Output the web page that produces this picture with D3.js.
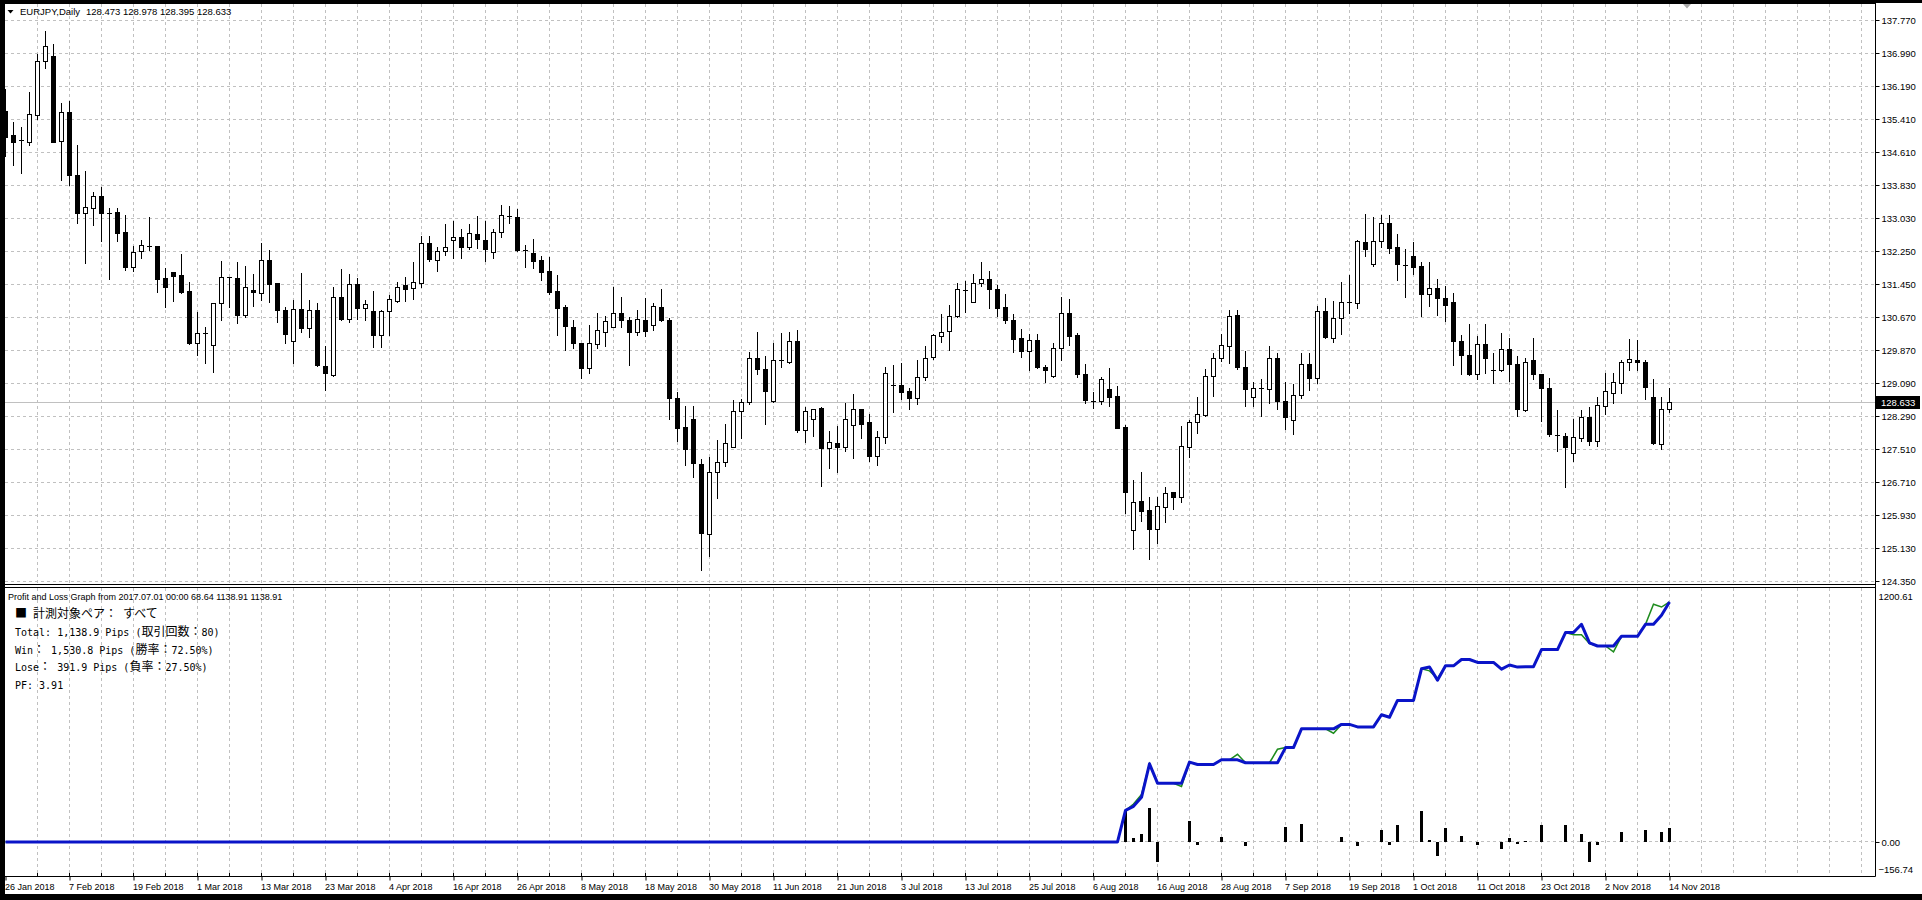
<!DOCTYPE html>
<html><head><meta charset="utf-8">
<script src="https://cdn.jsdelivr.net/npm/d3@7"></script>
<style>
body{margin:0;background:#fff;overflow:hidden}
text{font-family:"Liberation Sans",Arial,sans-serif}
</style>
</head><body><svg id="c" width="1922" height="900"></svg>
<script>
// ---------------- DATA ----------------
const symbolTitle = "EURJPY,Daily";
const headerOHLC = "128.473 128.978 128.395 128.633";
const timeLabels = ["26 Jan 2018","7 Feb 2018","19 Feb 2018","1 Mar 2018","13 Mar 2018","23 Mar 2018","4 Apr 2018","16 Apr 2018","26 Apr 2018","8 May 2018","18 May 2018","30 May 2018","11 Jun 2018","21 Jun 2018","3 Jul 2018","13 Jul 2018","25 Jul 2018","6 Aug 2018","16 Aug 2018","28 Aug 2018","7 Sep 2018","19 Sep 2018","1 Oct 2018","11 Oct 2018","23 Oct 2018","2 Nov 2018","14 Nov 2018"];
const barsPerLabel = 8;
const priceTicks = [137.770,136.990,136.190,135.410,134.610,133.830,133.030,132.250,131.450,130.670,129.870,129.090,128.290,127.510,126.710,125.930,125.130,124.350];
const priceMin = 124.350, priceMax = 137.770;
const bidPrice = 128.633;

const opens = [135.61,135.04,134.90,134.87,135.51,136.81,136.92,134.89,135.57,134.06,133.15,133.27,133.56,133.17,133.18,132.71,131.86,132.24,132.38,132.36,
131.60,131.74,131.67,131.29,130.05,130.28,130.00,131.00,131.62,131.60,130.71,131.32,131.24,132.04,131.48,130.83,130.09,130.86,130.40,130.83,
129.49,129.28,131.14,130.62,131.46,130.88,130.82,130.24,130.81,131.06,131.43,131.36,131.49,132.44,132.03,132.24,132.51,132.58,132.34,132.65,
132.51,132.22,132.70,133.06,133.07,132.27,132.21,132.04,131.77,131.29,130.92,130.44,130.06,129.44,130.02,130.32,130.42,130.76,130.60,130.32,
130.60,130.48,130.91,130.60,128.72,128.03,128.24,127.14,125.47,126.95,127.21,127.57,128.43,128.64,129.70,129.42,128.65,129.63,129.60,130.09,
127.97,128.24,128.49,127.53,127.65,127.57,128.08,128.46,128.15,127.35,127.79,129.04,129.04,128.90,128.74,129.24,129.72,130.22,130.34,130.69,
131.31,131.04,131.48,131.57,131.33,130.90,130.60,130.16,129.86,130.11,129.47,129.27,129.92,130.76,130.24,129.31,128.67,128.67,128.95,128.78,
128.03,125.56,126.27,126.05,125.60,126.11,126.47,126.35,127.57,128.16,128.32,129.27,129.68,129.98,130.71,129.48,128.75,128.97,128.95,129.70,
128.67,128.20,128.80,129.54,129.22,130.82,130.18,130.64,131.02,131.01,132.46,131.93,132.50,132.91,132.34,131.92,132.12,131.89,131.21,131.36,
131.12,131.04,130.10,129.76,129.30,130.02,129.39,129.39,129.90,129.54,128.44,129.63,129.30,128.96,127.85,127.83,127.41,127.77,128.28,127.71,
128.54,128.84,129.08,129.60,129.64,129.60,128.76,127.62,128.473];
const highs = [136.12,135.35,135.21,136.06,136.97,137.52,137.20,135.79,135.84,134.79,134.17,133.66,133.79,133.27,133.27,133.11,132.37,132.52,133.07,132.36,
131.85,131.74,132.18,131.51,130.79,130.43,131.01,132.01,131.64,131.98,131.89,131.70,132.44,132.28,131.48,130.92,131.08,131.73,131.08,131.00,
129.98,131.40,131.83,131.69,131.60,131.08,131.30,130.83,131.19,131.50,131.62,131.98,132.61,132.61,132.34,132.90,132.97,132.78,132.90,133.08,
132.97,132.77,133.35,133.33,133.26,132.39,132.53,132.13,132.11,131.68,130.96,130.60,130.06,130.48,130.77,130.69,131.40,131.16,130.68,130.84,
131.12,131.01,131.33,130.64,128.87,128.54,128.54,127.27,127.31,127.73,128.12,128.68,128.70,129.84,130.30,129.74,130.04,130.28,130.32,130.36,
128.52,128.48,128.52,127.94,128.05,128.62,128.83,128.46,128.36,127.93,129.47,129.51,129.56,128.96,129.64,129.98,130.26,130.74,130.96,131.48,
131.53,131.70,131.99,131.77,131.44,131.21,130.74,130.38,130.26,130.26,129.52,130.06,131.14,131.10,130.28,129.55,128.87,129.23,129.44,129.02,
128.08,126.78,126.97,126.35,126.35,126.59,126.47,128.06,128.20,128.75,129.43,129.82,130.26,130.85,130.85,129.86,129.12,129.18,129.98,129.82,
129.11,129.06,129.82,129.82,130.93,131.12,131.06,131.50,131.68,132.51,133.14,133.06,133.11,133.11,132.67,132.29,132.46,131.98,131.98,131.58,
131.41,131.24,130.24,130.50,130.22,130.50,129.81,130.28,130.16,129.74,129.68,130.18,129.30,129.20,128.44,127.89,128.23,128.44,128.52,128.75,
129.32,129.32,129.63,130.14,130.12,129.63,129.19,128.75,128.978];
const lows = [134.53,134.31,134.13,134.79,135.42,136.64,134.85,133.96,133.82,132.93,131.97,132.88,132.50,131.59,132.50,131.80,131.78,132.09,132.27,131.28,
130.92,131.06,131.25,130.03,129.76,129.56,129.35,130.59,130.90,130.52,130.68,130.94,131.08,131.02,130.54,130.06,129.58,130.32,130.19,129.49,
128.93,129.26,130.59,130.56,130.62,130.60,129.96,129.96,130.24,131.04,131.06,131.10,131.40,132.02,131.78,132.15,132.09,132.09,132.29,132.32,
132.02,132.09,132.59,132.91,132.26,131.88,131.85,131.56,131.22,130.24,129.88,129.94,129.22,129.34,129.92,129.98,130.42,130.42,129.51,130.24,
130.22,130.36,130.58,128.22,127.71,127.13,126.85,124.61,124.95,126.33,127.11,127.56,127.78,128.59,129.30,128.10,128.64,129.48,129.56,127.91,
127.69,127.81,126.63,127.06,126.97,127.47,127.29,127.78,127.23,127.13,127.65,128.40,128.71,128.48,128.58,129.16,129.66,130.08,129.88,130.66,
130.80,131.03,131.41,130.88,130.69,130.53,129.84,129.72,129.39,129.44,129.12,129.24,129.64,130.00,129.24,128.62,128.50,128.58,128.55,128.01,
125.99,125.12,125.79,124.88,125.27,125.77,126.07,126.25,127.33,127.90,128.30,128.79,129.62,129.58,129.42,128.55,128.54,128.30,128.60,128.47,
127.99,127.86,128.74,128.92,129.10,130.18,130.08,130.26,130.77,130.89,132.14,131.90,132.35,132.21,131.56,131.16,131.70,130.69,130.93,130.72,
130.58,129.51,129.31,129.29,129.19,129.34,129.10,129.38,129.14,128.31,128.43,129.19,128.19,127.82,127.47,126.61,127.23,127.71,127.61,127.59,
128.35,128.60,128.84,129.39,129.39,128.71,127.62,127.50,128.395];
const closes = [134.97,134.87,134.88,135.52,136.81,137.17,134.87,135.57,134.06,133.17,133.30,133.56,133.17,133.16,132.69,131.88,132.22,132.39,132.36,131.59,
131.38,131.66,131.26,130.05,130.28,130.27,131.00,131.62,131.61,130.71,131.40,131.26,132.04,131.47,130.83,130.26,130.86,130.40,130.83,129.51,
129.34,131.14,130.62,131.46,130.88,130.98,130.24,130.82,131.10,131.40,131.34,131.50,132.44,132.05,132.24,132.34,132.58,132.34,132.68,132.53,
132.29,132.70,133.11,133.08,132.27,132.28,132.02,131.76,131.28,130.89,130.46,130.04,129.46,130.04,130.36,130.57,130.76,130.61,130.32,130.62,
130.34,130.93,130.60,128.74,128.02,127.50,127.17,125.49,126.97,127.21,127.66,128.43,128.64,129.70,129.42,128.91,129.63,129.62,130.09,127.97,
128.43,128.48,127.53,127.67,127.57,128.22,128.46,128.12,127.35,127.79,129.32,129.05,128.88,128.74,129.24,129.70,130.23,130.32,130.69,131.33,
131.32,131.48,131.59,131.33,130.89,130.61,130.15,129.86,130.11,129.48,129.39,129.92,130.76,130.22,129.31,128.68,128.66,129.18,128.76,128.02,
126.49,126.25,126.03,125.60,126.15,126.45,126.35,127.59,128.16,128.34,129.27,129.68,129.99,130.70,129.48,128.95,128.98,128.98,129.68,128.67,
128.28,128.80,129.54,129.22,130.82,130.20,130.64,131.02,131.03,132.49,132.29,132.50,132.91,132.33,131.93,131.91,131.88,131.21,131.36,131.12,
130.97,130.10,129.75,129.30,130.02,129.70,129.40,129.90,129.54,128.46,129.59,129.30,128.96,127.86,127.84,127.57,127.79,128.28,127.71,128.56,
128.89,129.11,129.60,129.66,129.60,129.00,127.66,128.46,128.633];

// Profit & loss sub-window
const plTitle = "Profit and Loss Graph from 2017.07.01 00:00";
const plTitleValues = "68.64 1138.91 1138.91";
const plAxisMax = 1200.61, plAxisMin = -156.74;
const plFlatFromBar = 0;           // line is flat at 0 from first bar
const plStartBar = 139;            // first bar of the rising part
const plBlue = [0,150,169,212,371,279,279,279,279,379,368,368,368,390,390,390,376,376,376,376,
376,448,448,537,537,537,537,537,558,558,546,546,546,604,592,672,672,672,822,830,
768,836,836,866,866,852,852,852,820,840,830,832,832,913,913,913,994,994,1033,945,
930,930,930,976,976,976,1033,1033,1076,1138.91];
const plGreen = [0,150,180,225,371,279,279,279,263,379,368,368,368,390,390,416,376,376,376,376,
440,448,448,537,537,537,537,516,558,558,546,546,546,604,592,672,672,672,822,812,
776,836,836,866,866,852,852,852,820,840,830,832,832,913,913,913,994,984,984,942,
930,930,902,976,976,976,1033,1128,1115,1138.91];
const histBars = [140,141,142,143,144,148,149,152,155,160,162,167,169,172,173,174,177,178,179,180,182,184,187,188,189,190,192,195,197,198,199,202,205,207,208];
const histValues = [150,19,38,161,-96,101,-13,22,-17,73,87,22,-17,58,-16,82,148,8,-65,68,30,-16,-33,21,-9,3,82,82,39,-96,-16,49,58,46,68.64];
const infoLines = ["■ 計測対象ペア： すべて","Total: 1,138.9 Pips (取引回数：80)","Win： 1,530.8 Pips (勝率：72.50%)","Lose： 391.9 Pips (負率：27.50%)","PF: 3.91"];

// ---------------- LAYOUT ----------------
const svg = d3.select("#c");
const plotL = 5, plotR = 1875, mainT = 4, mainB = 584, subT = 588, subB = 876;
const GRID = "#c0c0c0";
const lastGridBar = 232;
const x = d3.scaleLinear().domain([0, lastGridBar]).range([5.5, 5.5 + 8 * lastGridBar]);
const yP = d3.scaleLinear().domain([priceMin, priceMax]).range([581, 20.5]);
const yS = d3.scaleLinear().domain([plAxisMin, plAxisMax]).range([875, 589]);
const crisp = v => Math.round(v - 0.5) + 0.5;

svg.append("rect").attr("width",1922).attr("height",900).attr("fill","#fff");
const defs = svg.append("defs");
defs.append("clipPath").attr("id","clipMain").append("rect").attr("x",plotL).attr("y",mainT).attr("width",plotR-plotL).attr("height",mainB-mainT);
defs.append("clipPath").attr("id","clipSub").append("rect").attr("x",plotL).attr("y",subT).attr("width",plotR-plotL).attr("height",subB-subT);

// vertical grid lines (every 4 bars)
const gridBars = d3.range(4, lastGridBar + 1, 4);
const gGrid = svg.append("g").attr("stroke",GRID).attr("stroke-dasharray","3,3").attr("stroke-width",1);
gridBars.forEach(b => {
  gGrid.append("line").attr("x1",x(b)).attr("x2",x(b)).attr("y1",mainT).attr("y2",mainB);
  gGrid.append("line").attr("x1",x(b)).attr("x2",x(b)).attr("y1",subT).attr("y2",subB);
});
// horizontal price grid
priceTicks.forEach(p => {
  gGrid.append("line").attr("x1",plotL).attr("x2",plotR).attr("y1",crisp(yP(p))).attr("y2",crisp(yP(p)));
});
// sub zero grid
gGrid.append("line").attr("x1",plotL).attr("x2",plotR).attr("y1",crisp(yS(0))).attr("y2",crisp(yS(0)));

// bid line
svg.append("line").attr("x1",plotL).attr("x2",plotR).attr("y1",crisp(yP(bidPrice))).attr("y2",crisp(yP(bidPrice)))
  .attr("stroke","#c0c0c0").attr("stroke-width",1);

// candles
const gC = svg.append("g").attr("clip-path","url(#clipMain)");
opens.forEach((o, i) => {
  const h = highs[i], l = lows[i], c = closes[i];
  const cx = x(i);
  gC.append("line").attr("x1",cx).attr("x2",cx).attr("y1",Math.round(yP(h))).attr("y2",Math.round(yP(l))+1)
    .attr("stroke","#000").attr("stroke-width",1);
  const top = Math.round(yP(Math.max(o,c))), bot = Math.round(yP(Math.min(o,c)));
  if (bot - top < 2) {
    gC.append("line").attr("x1",cx-2.5).attr("x2",cx+2.5).attr("y1",top+0.5).attr("y2",top+0.5).attr("stroke","#000");
  } else if (c >= o) {
    gC.append("rect").attr("x",cx-2).attr("y",top+0.5).attr("width",4).attr("height",bot-top)
      .attr("fill","#fff").attr("stroke","#000").attr("stroke-width",1);
  } else {
    gC.append("rect").attr("x",cx-2.5).attr("y",top).attr("width",5).attr("height",bot-top+1).attr("fill","#000");
  }
});

// sub-window: histogram + lines
const gS = svg.append("g").attr("clip-path","url(#clipSub)");
histBars.forEach((b, k) => {
  const v = histValues[k];
  const y0 = Math.round(yS(0)), y1 = Math.round(yS(v));
  gS.append("rect").attr("x",x(b)-1.5).attr("width",3)
    .attr("y",Math.min(y0,y1)).attr("height",Math.max(1,Math.abs(y1-y0))).attr("fill","#000");
});
const lineGen = d3.line().x(d => x(d[0])).y(d => yS(d[1]));
const series = vals => [[plFlatFromBar, 0]].concat(vals.map((v, k) => [plStartBar + k, v]));
gS.append("path").attr("d",lineGen(series(plGreen))).attr("fill","none").attr("stroke","#1e8c1e").attr("stroke-width",1.5);
gS.append("path").attr("d",lineGen(series(plBlue))).attr("fill","none").attr("stroke","#0a14c8").attr("stroke-width",3).attr("stroke-linejoin","round");

// frame / borders
svg.append("rect").attr("x",0).attr("y",0).attr("width",1922).attr("height",3).attr("fill","#000");
svg.append("rect").attr("x",0).attr("y",0).attr("width",plotL).attr("height",900).attr("fill","#000");
svg.append("rect").attr("x",0).attr("y",894).attr("width",1922).attr("height",6).attr("fill","#000");
const gB = svg.append("g").attr("stroke","#000").attr("stroke-width",1).attr("fill","none");
gB.append("line").attr("x1",plotL).attr("x2",plotR+0.5).attr("y1",3.5).attr("y2",3.5);
gB.append("line").attr("x1",plotR+0.5).attr("x2",plotR+0.5).attr("y1",3).attr("y2",subB+0.5);
gB.append("line").attr("x1",plotL).attr("x2",plotR+0.5).attr("y1",mainB+0.5).attr("y2",mainB+0.5);
gB.append("line").attr("x1",plotL).attr("x2",plotR+0.5).attr("y1",subT-0.5).attr("y2",subT-0.5);
gB.append("line").attr("x1",plotL).attr("x2",plotR+0.5).attr("y1",subB+0.5).attr("y2",subB+0.5);

// price axis
const axP = svg.append("g").attr("transform",`translate(${plotR+0.5},0)`)
  .call(d3.axisRight(yP).tickValues(priceTicks).tickFormat(d3.format(".3f")).tickSize(4).tickPadding(2));
axP.select(".domain").remove();
axP.selectAll("text").attr("font-size","9.5px").attr("font-family","Liberation Sans, Arial, sans-serif").attr("fill","#000");
axP.selectAll(".tick").attr("transform", d => `translate(0,${crisp(yP(d))})`);

// bid label
const by = crisp(yP(bidPrice));
svg.append("rect").attr("x",plotR+1).attr("y",by-6.5).attr("width",44).attr("height",13).attr("fill","#000");
svg.append("text").attr("x",plotR+6).attr("y",by+3.5).attr("font-size","9.5px").attr("fill","#fff").text(d3.format(".3f")(bidPrice));

// sub axis
const axS = svg.append("g").attr("transform",`translate(${plotR+0.5},0)`)
  .call(d3.axisRight(yS).tickValues([plAxisMax, 0, plAxisMin]).tickFormat(d3.format(".2f")).tickSize(4).tickPadding(2));
axS.select(".domain").remove();
axS.selectAll("text").attr("font-size","9.5px").attr("fill","#000");
axS.selectAll(".tick").filter(d => d !== 0).select("line").remove();
axS.selectAll(".tick").filter(d => d === plAxisMax).select("text").attr("dy","1.1em").attr("x",3);
axS.selectAll(".tick").filter(d => d === plAxisMin).select("text").attr("dy","-0.25em").attr("x",3);

// time axis
const labelBars = timeLabels.map((_, k) => k * barsPerLabel);
const axT = svg.append("g").attr("transform",`translate(0,${subB+0.5})`)
  .call(d3.axisBottom(x).tickValues(labelBars).tickFormat((d, k) => timeLabels[k]).tickSize(4).tickPadding(3));
axT.select(".domain").remove();
axT.selectAll("text").attr("text-anchor","start").attr("x",-1).attr("font-size","9px").attr("fill","#000");
// minor ticks every 4 bars
const gMT = svg.append("g").attr("stroke","#000");
d3.range(4, opens.length, 4).forEach(b => {
  gMT.append("line").attr("x1",x(b)).attr("x2",x(b)).attr("y1",subB-3).attr("y2",subB);
});

// header
svg.append("path").attr("d","M7.5,10 L13.5,10 L10.5,13.5 Z").attr("fill","#000");
svg.append("text").attr("x",20).attr("y",15).attr("font-size","9.5px").text(symbolTitle);
svg.append("text").attr("x",86).attr("y",15).attr("font-size","9.5px").text(headerOHLC);
svg.append("path").attr("d","M1683,4 L1691,4 L1687,8.5 Z").attr("fill","#a8a8a8");

// sub title
svg.append("text").attr("x",8).attr("y",600).attr("font-size","9px").text(plTitle + " " + plTitleValues);

// info lines (monospace latin + CJK)
const infoY = [614, 632, 650, 667, 685];
infoLines.forEach((s, k) => {
  const t = svg.append("text").attr("x",15).attr("y",infoY[k]+4);
  let runs = [];
  for (const ch of s) {
    const wide = /[^\x00-\x7F]/.test(ch);
    if (runs.length && runs[runs.length-1].wide === wide) runs[runs.length-1].s += ch;
    else runs.push({wide, s: ch});
  }
  runs.forEach(r => {
    t.append("tspan").attr("font-family", r.wide ? "Noto Sans CJK JP" : "DejaVu Sans Mono")
      .attr("font-size", r.wide ? "12px" : "10px").attr("xml:space","preserve").text(r.s);
  });
});
</script>
</body></html>
